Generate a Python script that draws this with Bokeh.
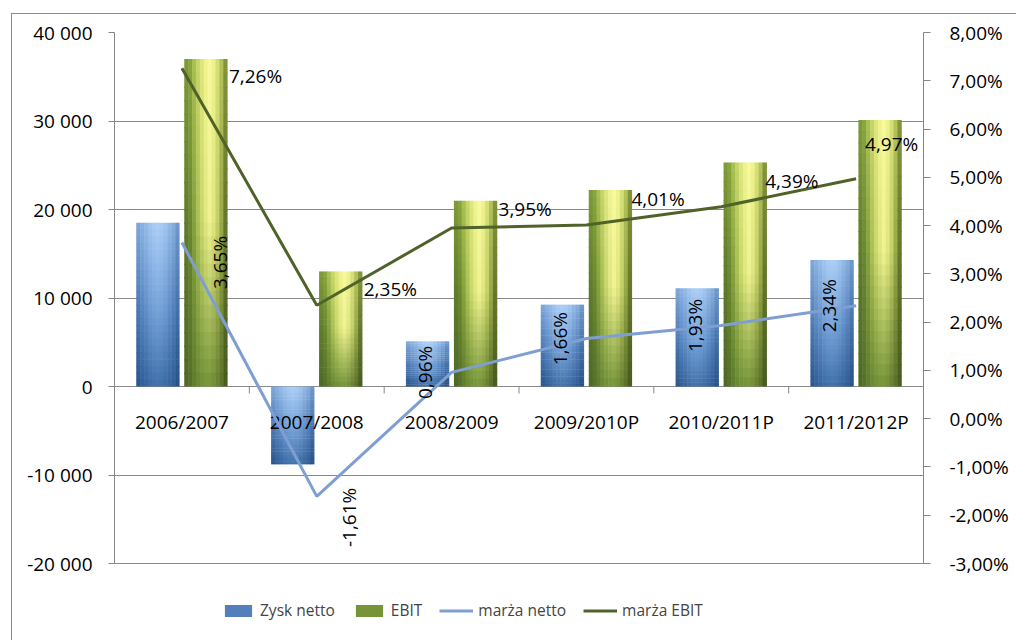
import numpy as np
from bokeh.plotting import figure
from bokeh.models import (Range1d, LinearAxis, FixedTicker, ColumnDataSource, Legend,
                          LegendItem, Grid)
from bokeh.embed import file_html
from bokeh.resources import INLINE
from bokeh.core.properties import value

# ---------------- data ----------------
categories = ["2006/2007", "2007/2008", "2008/2009", "2009/2010P", "2010/2011P", "2011/2012P"]
zysk_netto = [18500, -8800, 5100, 9250, 11100, 14300]
ebit = [37000, 13000, 21000, 22200, 25300, 30100]
marza_netto = [3.65, -1.61, 0.96, 1.66, 1.93, 2.34]
marza_ebit = [7.26, 2.35, 3.95, 4.01, 4.39, 4.97]

left_ticks = [-20000, -10000, 0, 10000, 20000, 30000, 40000]
left_labels = ["-20 000", "-10 000", "0", "10 000", "20 000", "30 000", "40 000"]
pct_ticks = [-3, -2, -1, 0, 1, 2, 3, 4, 5, 6, 7, 8]
pct_labels = ["-3,00%", "-2,00%", "-1,00%", "0,00%", "1,00%", "2,00%", "3,00%",
              "4,00%", "5,00%", "6,00%", "7,00%", "8,00%"]

# ---------------- styles / layout ----------------
FONT = "Open Sans"
GRID = "#8a8a8a"
AXIS = "#868686"
BAR_W = 0.318
OFFS = {"blue": -0.178, "green": 0.178}
NS, NB = 11, 24

W, H = 1005, 627          # canvas size (page offset 12, 14 because of the chart border)
BORDER_L, BORDER_T, BORDER_R = 102, 18, 94
AXIS_PX = 531             # pixel height of the value axes
FRAME_H = H - BORDER_T    # frame runs down to the canvas bottom (legend lives inside)
TICK_PX = 7

blue_top = ["#7fa8da", "#8ab3e3", "#95bbe9", "#a0c5f0", "#a8ccf4", "#accff6", "#a8ccf4", "#a0c5ef", "#93b9e6", "#86aedd", "#7099cc"]
blue_mid = ["#4f7cb5", "#5a88c2", "#6591cb", "#709dd5", "#77a3da", "#7aa6dc", "#77a3da", "#6f9cd3", "#6390c8", "#5683bd", "#4773ab"]
blue_bot = ["#2a558c", "#305e96", "#36649d", "#3c6ba5", "#4070a9", "#4272ab", "#4070a9", "#3c6ba4", "#36649c", "#305d94", "#285288"]
green_top = ["#7f9a38", "#8aa63e", "#a9c153", "#c6d669", "#dfe67d", "#eff38f", "#f7f99c", "#eef28d", "#d6df78", "#b4c25c", "#84953a"]
green_mid = ["#607c2b", "#6a8830", "#86a23e", "#a8bf54", "#c8d76b", "#e0e87f", "#eef290", "#e0e67f", "#c4d068", "#98a948", "#66772c"]
green_bot = ["#4f6926", "#55702a", "#5f7c2e", "#688833", "#6f8f36", "#739338", "#749437", "#6f8d35", "#687f31", "#5a7129", "#475c20"]

NETTO_LINE = "#7f9fd3"
EBIT_LINE = "#4f6228"

# label offsets in screen px (dx right, dy down)
ebit_dx = [47, 47, 47, 45, 44, 9]
ebit_dy = [8, -16, -19, -26, -26, -35]
netto_dx = [38, 32, -27, -26, -26, -27]
netto_dy = [20, 21, 0, 0, 0, 0]


def hex2rgb(h):
    return np.array([int(h[1:3], 16), int(h[3:5], 16), int(h[5:7], 16)], float)


def mix(t, top, mid, bot):
    if t < 0.5:
        a, b, f = hex2rgb(top), hex2rgb(mid), t / 0.5
    else:
        a, b, f = hex2rgb(mid), hex2rgb(bot), (t - 0.5) / 0.5
    c = a + (b - a) * f
    return "#%02x%02x%02x" % tuple(int(round(v)) for v in c)


def bar_source(vals, offset, top, mid, bot):
    xs, tops, bots, cols = [], [], [], []
    sw = BAR_W / NS
    for i, v in enumerate(vals):
        hi, lo = max(v, 0), min(v, 0)
        span = hi - lo
        for b in range(NB):
            t0, t1 = b / NB, (b + 1) / NB
            y_top = hi - span * t0
            y_bot = hi - span * t1 - (span * 0.004 if b < NB - 1 else 0)
            tm = (t0 + t1) / 2
            for s in range(NS):
                xs.append(i + 0.5 + offset + (s - (NS - 1) / 2) * sw)
                tops.append(y_top)
                bots.append(y_bot)
                cols.append(mix(tm, top[s], mid[s], bot[s]))
    return ColumnDataSource(dict(x=xs, top=tops, bottom=bots, color=cols)), sw


n = len(categories)
centers = [i + 0.5 for i in range(n)]
bounds = [float(i) for i in range(n + 1)]

l_lo, l_hi = left_ticks[0], left_ticks[-1]
r_lo, r_hi = pct_ticks[0], pct_ticks[-1]
l_start = l_hi - FRAME_H * (l_hi - l_lo) / AXIS_PX
r_start = r_hi - FRAME_H * (r_hi - r_lo) / AXIS_PX
tick_units = TICK_PX * (l_hi - l_lo) / AXIS_PX

p = figure(width=W, height=H, x_range=Range1d(0, n), y_range=Range1d(l_start, l_hi),
           output_backend="svg", toolbar_location=None,
           x_axis_location=None, y_axis_location=None,
           min_border_left=BORDER_L, min_border_right=BORDER_R, min_border_top=BORDER_T,
           min_border_bottom=0,
           styles={"margin-left": "11px", "margin-top": "13px",
                   "border-left": "1px solid #8a8a8a", "border-top": "1px solid #8a8a8a"})
p.extra_y_ranges = {"pct": Range1d(r_start, r_hi)}
p.outline_line_color = None
p.background_fill_color = "white"
p.border_fill_color = "white"
for g in p.grid:
    g.visible = False

# horizontal grid
p.add_layout(Grid(dimension=1, ticker=FixedTicker(ticks=left_ticks), grid_line_color=GRID,
                  grid_line_width=1))

# left axis
la = LinearAxis(ticker=FixedTicker(ticks=left_ticks), bounds=(l_lo, l_hi),
                major_label_overrides={t: l for t, l in zip(left_ticks, left_labels)})
# right axis
ra = LinearAxis(y_range_name="pct", ticker=FixedTicker(ticks=pct_ticks), bounds=(r_lo, r_hi),
                major_label_overrides={t: l for t, l in zip(pct_ticks, pct_labels)})
for ax in (la, ra):
    ax.axis_line_color = AXIS
    ax.major_tick_line_color = AXIS
    ax.major_tick_in = 0
    ax.minor_tick_in = 0
    ax.minor_tick_out = 0
    ax.major_label_text_font = FONT
    ax.major_label_text_font_size = "19px"
    ax.major_label_text_color = "black"
la.major_tick_out = 6
la.major_label_standoff = 16
ra.major_tick_out = 7
ra.major_label_standoff = 19
p.add_layout(la, "left")
p.add_layout(ra, "right")

# category axis at zero: boundary ticks and labels
p.segment(x0=bounds, y0=[0] * (n + 1), x1=bounds, y1=[-tick_units] * (n + 1),
          line_color=AXIS, line_width=1)

# bars
src_b, sw = bar_source(zysk_netto, OFFS["blue"], blue_top, blue_mid, blue_bot)
src_g, _ = bar_source(ebit, OFFS["green"], green_top, green_mid, green_bot)
rb = p.vbar(x="x", top="top", bottom="bottom", width=sw * 1.12, fill_color="color",
            line_color=None, source=src_b)
rg = p.vbar(x="x", top="top", bottom="bottom", width=sw * 1.12, fill_color="color",
            line_color=None, source=src_g)

p.text(x=centers, y=[0] * n, text=categories, y_offset=35,
       text_font=value(FONT), text_font_size="19px", text_color="black",
       text_align="center", text_baseline="middle")

# lines
rn = p.line(centers, marza_netto, y_range_name="pct", line_color=NETTO_LINE, line_width=3)
re = p.line(centers, marza_ebit, y_range_name="pct", line_color=EBIT_LINE, line_width=3)


def fmt(v):
    return ("%.2f" % v).replace(".", ",") + "%"


# data labels
lab_e = ColumnDataSource(dict(x=centers, y=marza_ebit, t=[fmt(v) for v in marza_ebit],
                              dx=ebit_dx, dy=ebit_dy))
p.text(x="x", y="y", text="t", source=lab_e, y_range_name="pct", x_offset="dx", y_offset="dy",
       text_font=value(FONT), text_font_size="19px", text_color="black",
       text_align="left", text_baseline="middle")
lab_n = ColumnDataSource(dict(x=centers, y=marza_netto, t=[fmt(v) for v in marza_netto],
                              dx=netto_dx, dy=netto_dy))
p.text(x="x", y="y", text="t", source=lab_n, y_range_name="pct", x_offset="dx", y_offset="dy",
       angle=np.pi / 2, text_font=value(FONT), text_font_size="19px", text_color="black",
       text_align="center", text_baseline="middle")

# legend (inside the extended frame, below the value area)
sw_idx = 16 * NS + 2
legend = Legend(items=[LegendItem(label="Zysk netto", renderers=[rb], index=sw_idx),
                       LegendItem(label="EBIT", renderers=[rg], index=sw_idx),
                       LegendItem(label="marża netto", renderers=[rn]),
                       LegendItem(label="marża EBIT", renderers=[re])],
                orientation="horizontal", location=(107, 20), padding=0, margin=0,
                spacing=17, label_standoff=5, glyph_width=34, glyph_height=15,
                label_height=20, border_line_color=None, background_fill_alpha=0,
                label_text_font=FONT, label_text_font_size="15.5px")
p.add_layout(legend, "center")

open("out.html", "w").write(file_html(p, INLINE))
